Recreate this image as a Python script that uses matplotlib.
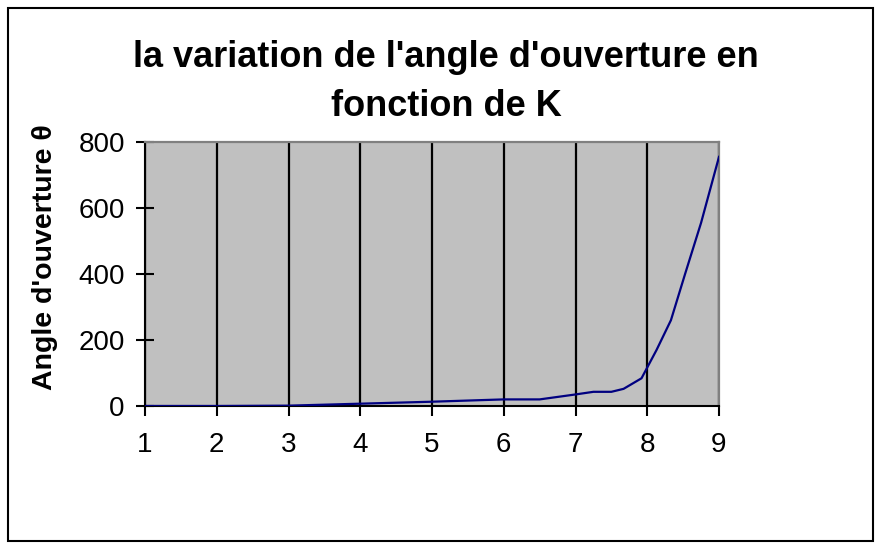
import matplotlib.pyplot as plt
from matplotlib.patches import Rectangle

# K values and the measured opening angle (degrees)
k_values = [1, 2, 3, 4, 5, 6, 6.5, 7, 7.25, 7.5, 7.67, 7.92, 8.13, 8.33, 8.53, 8.75, 9]
theta = [0, 0, 1, 7, 13, 20, 20, 35, 43, 43, 52, 84, 170, 260, 402, 555, 755]

x_ticks = [1, 2, 3, 4, 5, 6, 7, 8, 9]
y_ticks = [0, 200, 400, 600, 800]

plt.rcParams['font.family'] = ['Liberation Sans', 'DejaVu Sans']

fig = plt.figure(figsize=(8.81, 5.49), dpi=100)
ax = fig.add_axes([145/881, 1 - 406/549, 574/881, 264/549])
ax.set_facecolor('#C0C0C0')

ax.plot(k_values, theta, color='#000080', linewidth=1.6, zorder=3)

ax.set_xlim(1, 9)
ax.set_ylim(0, 800)
ax.set_xticks(x_ticks)
ax.set_yticks(y_ticks)
ax.tick_params(axis='x', direction='out', length=7, width=1.5, labelsize=20, pad=12)
ax.tick_params(axis='y', direction='inout', length=13, width=1.5, labelsize=20, pad=8)

ax.grid(axis='x', color='black', linewidth=1.6)
ax.grid(axis='y', visible=False)

for side in ['top', 'right']:
    ax.spines[side].set_color('#808080')
    ax.spines[side].set_linewidth(1.6)
for side in ['left', 'bottom']:
    ax.spines[side].set_color('black')
    ax.spines[side].set_linewidth(1.5)

fig.text(45/881, 1 - 257/549, "Angle d'ouverture θ", rotation=90, ha='center', va='center',
         fontsize=20.5, fontweight='bold')

fig.text(446/881, 1 - 82/549, "la variation de l'angle d'ouverture en\nfonction de K",
         ha='center', va='center', fontsize=26, fontweight='bold', linespacing=1.55)

# outer frame around the whole chart
fig.patches.append(Rectangle((8/881, 8/549), 865/881, 533/549, transform=fig.transFigure,
                             fill=False, edgecolor='black', linewidth=1.5))

fig.savefig('out.png', dpi=100)
